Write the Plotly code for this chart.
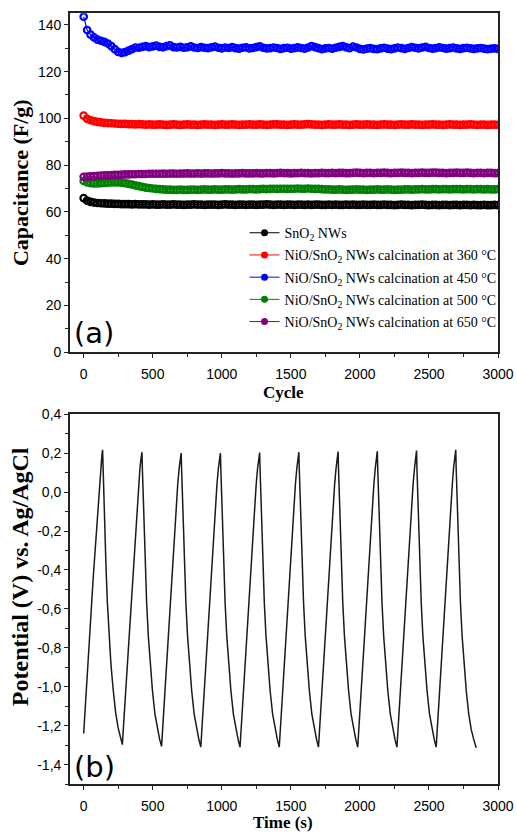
import plotly.graph_objects as go

W, H = 517, 836  # reference size, used only to turn pixel positions into paper fractions
FIG_W, FIG_H = 532, 844  # page size that the capture maps onto the 517x836 picture

# ---------------- Panel (a): capacitance retention ----------------
cycles = list(range(0, 3001, 25))

cap_sno2 = [
    65.9, 64.8, 64.3, 64.0, 63.8, 63.7, 63.6, 63.5, 63.5, 63.4, 63.4, 63.3, 63.3,
    63.3, 63.2, 63.3, 63.2, 63.2, 63.2, 63.1, 63.2, 63.1, 63.1, 63.2, 63.1,
    63.1, 63.2, 63.1, 63.1, 63.0, 63.1, 63.1, 63.2, 63.1, 63.1, 63.0, 63.1,
    63.1, 63.1, 63.0, 63.1, 63.2, 63.1, 63.1, 63.0, 63.1, 63.1, 63.0, 63.1,
    63.1, 63.0, 63.1, 63.1, 63.2, 63.1, 63.0, 63.1, 63.1, 63.0, 63.1, 63.1,
    63.0, 63.1, 63.1, 63.0, 63.1, 63.0, 63.1, 63.1, 63.0, 63.0, 63.1, 63.0,
    63.1, 63.0, 63.0, 63.1, 63.0, 63.1, 63.0, 63.0, 63.1, 63.0, 63.0, 63.1,
    63.0, 63.0, 63.1, 63.0, 63.0, 62.9, 63.0, 63.1, 63.0, 63.0, 62.9, 63.0,
    63.0, 63.1, 63.0, 62.9, 63.0, 63.0, 62.9, 63.0, 63.0, 62.9, 63.0, 63.0,
    62.9, 63.0, 63.0, 62.9, 63.0, 62.9, 62.9, 63.0, 62.9, 62.9, 63.0, 62.9,
]
cap_360 = [
    101.2, 99.8, 99.2, 98.8, 98.5, 98.3, 98.1, 98.0, 97.9, 97.8, 97.7, 97.6, 97.6,
    97.5, 97.5, 97.4, 97.5, 97.4, 97.3, 97.4, 97.3, 97.3, 97.4, 97.3, 97.2,
    97.3, 97.4, 97.3, 97.2, 97.3, 97.4, 97.3, 97.3, 97.2, 97.3, 97.4, 97.3,
    97.3, 97.2, 97.3, 97.4, 97.3, 97.3, 97.4, 97.3, 97.2, 97.3, 97.3, 97.4,
    97.3, 97.3, 97.4, 97.3, 97.2, 97.3, 97.4, 97.4, 97.3, 97.3, 97.2, 97.3,
    97.4, 97.3, 97.3, 97.4, 97.5, 97.4, 97.3, 97.3, 97.2, 97.3, 97.4, 97.3,
    97.3, 97.4, 97.3, 97.3, 97.2, 97.3, 97.4, 97.3, 97.3, 97.4, 97.3, 97.3,
    97.2, 97.3, 97.4, 97.3, 97.3, 97.2, 97.3, 97.4, 97.3, 97.3, 97.4, 97.3,
    97.3, 97.2, 97.3, 97.3, 97.4, 97.3, 97.3, 97.2, 97.3, 97.4, 97.3, 97.3,
    97.2, 97.3, 97.3, 97.4, 97.3, 97.2, 97.3, 97.3, 97.2, 97.3, 97.3, 97.2,
]
cap_450 = [
    143.5, 137.8, 135.8, 134.6, 133.7, 133.2, 132.7, 132.0, 130.9, 129.6, 128.4, 128.0, 128.3,
    129.0, 129.6, 130.3, 130.2, 130.6, 130.9, 130.5, 130.8, 131.1, 130.6, 130.4, 130.9,
    131.2, 130.5, 130.3, 130.6, 130.2, 130.4, 130.8, 130.3, 130.1, 130.5, 130.2, 130.0,
    130.4, 130.7, 130.2, 129.9, 130.3, 130.1, 130.5, 130.0, 129.8, 130.2, 130.4, 129.9,
    130.1, 130.5, 130.8, 130.2, 129.9, 130.0, 130.3, 130.1, 129.7, 130.0, 130.2, 129.8,
    130.0, 130.4, 130.1, 129.8, 130.3, 130.9, 130.5, 130.0, 129.6, 129.9, 130.1, 129.8,
    130.2, 130.6, 130.9, 130.4, 130.0, 130.7, 130.3, 129.7, 129.5, 129.8, 130.0, 129.7,
    129.6, 129.9, 130.2, 129.8, 129.6, 129.9, 130.3, 130.0, 129.7, 130.1, 130.5, 130.2,
    129.9, 130.3, 130.6, 130.1, 129.8, 130.0, 130.4, 130.1, 129.8, 130.0, 130.3, 129.9,
    129.7, 130.0, 130.2, 129.9, 129.7, 129.9, 130.1, 129.8, 129.6, 129.8, 129.9, 129.7,
]
cap_500 = [
    73.2, 72.6, 72.3, 72.2, 72.2, 72.3, 72.4, 72.5, 72.6, 72.6, 72.6, 72.5, 72.3,
    72.0, 71.7, 71.3, 71.0, 70.7, 70.4, 70.2, 70.0, 69.8, 69.7, 69.6, 69.5,
    69.5, 69.4, 69.4, 69.5, 69.4, 69.4, 69.5, 69.5, 69.4, 69.5, 69.6, 69.5,
    69.5, 69.6, 69.5, 69.5, 69.6, 69.6, 69.5, 69.6, 69.7, 69.6, 69.6, 69.7,
    69.7, 69.6, 69.7, 69.8, 69.7, 69.8, 69.9, 69.8, 69.9, 69.9, 69.8, 69.9,
    69.9, 70.0, 69.9, 69.9, 70.0, 69.9, 69.8, 69.8, 69.7, 69.6, 69.6, 69.5,
    69.5, 69.6, 69.5, 69.4, 69.5, 69.5, 69.6, 69.5, 69.5, 69.4, 69.5, 69.5,
    69.6, 69.5, 69.5, 69.6, 69.5, 69.4, 69.5, 69.5, 69.6, 69.6, 69.5, 69.6,
    69.6, 69.7, 69.6, 69.6, 69.7, 69.7, 69.6, 69.7, 69.7, 69.6, 69.7, 69.7,
    69.7, 69.6, 69.7, 69.7, 69.6, 69.7, 69.7, 69.6, 69.7, 69.6, 69.6, 69.7,
]
cap_650 = [
    75.0, 75.1, 75.2, 75.3, 75.4, 75.5, 75.6, 75.6, 75.7, 75.8, 75.8, 75.9, 76.0,
    76.0, 76.1, 76.1, 76.2, 76.2, 76.2, 76.3, 76.3, 76.3, 76.3, 76.4, 76.3,
    76.4, 76.4, 76.3, 76.4, 76.4, 76.5, 76.4, 76.4, 76.5, 76.4, 76.5, 76.5,
    76.4, 76.5, 76.5, 76.6, 76.5, 76.5, 76.4, 76.5, 76.5, 76.6, 76.5, 76.5,
    76.5, 76.6, 76.5, 76.5, 76.6, 76.6, 76.5, 76.6, 76.7, 76.6, 76.6, 76.5,
    76.6, 76.6, 76.7, 76.6, 76.6, 76.5, 76.6, 76.6, 76.7, 76.6, 76.6, 76.7,
    76.6, 76.7, 76.7, 76.6, 76.6, 76.7, 76.8, 76.7, 76.6, 76.7, 76.7, 76.6,
    76.7, 76.7, 76.8, 76.7, 76.6, 76.7, 76.7, 76.8, 76.7, 76.7, 76.6, 76.7,
    76.7, 76.8, 76.7, 76.7, 76.8, 76.8, 76.7, 76.7, 76.6, 76.7, 76.7, 76.8,
    76.7, 76.7, 76.8, 76.7, 76.6, 76.7, 76.7, 76.6, 76.7, 76.7, 76.6, 76.6,
]

series_names = [
    "SnO<sub>2</sub> NWs",
    "NiO/SnO<sub>2</sub> NWs calcination at 360 °C",
    "NiO/SnO<sub>2</sub> NWs calcination at 450 °C",
    "NiO/SnO<sub>2</sub> NWs calcination at 500 °C",
    "NiO/SnO<sub>2</sub> NWs calcination at 650 °C",
]
series_values = [cap_sno2, cap_360, cap_450, cap_500, cap_650]
series_colors = ["#000000", "#ff0000", "#0000ff", "#008000", "#800080"]

yticks_a = [0, 20, 40, 60, 80, 100, 120, 140]
xticks = [0, 500, 1000, 1500, 2000, 2500, 3000]

# ---------------- Panel (b): galvanostatic charge/discharge ----------------
time_s = [
    0, 20, 40, 53, 70, 94, 106, 116, 126, 132, 137,
    140, 145, 152, 161, 171, 183, 197, 213, 231, 249, 265, 280,
    300, 320, 340, 360, 375, 387, 397, 407, 415, 422,
    425, 430, 437, 446, 456, 468, 482, 498, 516, 534, 550, 564,
    584, 604, 624, 644, 659, 671, 681, 691, 699, 706,
    709, 714, 721, 730, 740, 752, 766, 782, 800, 818, 834, 848,
    868, 888, 908, 928, 943, 955, 965, 975, 983, 990,
    993, 998, 1005, 1014, 1024, 1036, 1050, 1066, 1084, 1102, 1118, 1132,
    1152, 1172, 1192, 1212, 1227, 1239, 1249, 1259, 1267, 1274,
    1277, 1282, 1289, 1298, 1308, 1320, 1334, 1350, 1368, 1386, 1402, 1416,
    1436, 1456, 1476, 1496, 1511, 1523, 1533, 1543, 1551, 1558,
    1561, 1566, 1573, 1582, 1592, 1604, 1618, 1634, 1652, 1670, 1686, 1700,
    1720, 1740, 1760, 1780, 1795, 1807, 1817, 1827, 1835, 1842,
    1845, 1850, 1857, 1866, 1876, 1888, 1902, 1918, 1936, 1954, 1970, 1984,
    2004, 2024, 2044, 2064, 2079, 2091, 2101, 2111, 2119, 2126,
    2129, 2134, 2141, 2150, 2160, 2172, 2186, 2202, 2220, 2238, 2254, 2268,
    2288, 2308, 2328, 2348, 2363, 2375, 2385, 2395, 2403, 2410,
    2413, 2418, 2425, 2434, 2444, 2456, 2470, 2486, 2504, 2522, 2538, 2552,
    2572, 2592, 2612, 2632, 2647, 2659, 2669, 2679, 2687, 2694,
    2697, 2702, 2709, 2718, 2728, 2740, 2754, 2770, 2788, 2806, 2824, 2842,
]
potential_v = [
    -1.24, -1.00, -0.78, -0.62, -0.43, -0.19, -0.06, 0.05, 0.14, 0.19, 0.217,
    0.13, 0.01, -0.15, -0.37, -0.56, -0.73, -0.88, -1.01, -1.13, -1.21, -1.26, -1.297,
    -1.07, -0.84, -0.61, -0.38, -0.21, -0.07, 0.04, 0.12, 0.17, 0.205,
    0.12, 0.00, -0.16, -0.38, -0.57, -0.74, -0.89, -1.02, -1.14, -1.22, -1.27, -1.306,
    -1.07, -0.84, -0.61, -0.38, -0.21, -0.07, 0.04, 0.12, 0.165, 0.200,
    0.12, 0.00, -0.16, -0.38, -0.57, -0.74, -0.89, -1.02, -1.14, -1.22, -1.27, -1.309,
    -1.07, -0.84, -0.61, -0.38, -0.21, -0.07, 0.04, 0.12, 0.165, 0.200,
    0.12, 0.00, -0.16, -0.38, -0.57, -0.74, -0.89, -1.02, -1.14, -1.22, -1.27, -1.310,
    -1.07, -0.84, -0.61, -0.38, -0.21, -0.07, 0.04, 0.12, 0.168, 0.203,
    0.12, 0.00, -0.16, -0.38, -0.57, -0.74, -0.89, -1.02, -1.14, -1.22, -1.27, -1.310,
    -1.07, -0.84, -0.61, -0.38, -0.21, -0.07, 0.04, 0.12, 0.17, 0.205,
    0.12, 0.00, -0.16, -0.38, -0.57, -0.74, -0.89, -1.02, -1.14, -1.22, -1.27, -1.310,
    -1.07, -0.84, -0.61, -0.38, -0.21, -0.07, 0.04, 0.12, 0.172, 0.208,
    0.12, 0.00, -0.16, -0.38, -0.57, -0.74, -0.89, -1.02, -1.14, -1.22, -1.27, -1.310,
    -1.07, -0.84, -0.61, -0.38, -0.21, -0.07, 0.04, 0.12, 0.174, 0.210,
    0.12, 0.00, -0.16, -0.38, -0.57, -0.74, -0.89, -1.02, -1.14, -1.22, -1.27, -1.310,
    -1.07, -0.84, -0.61, -0.38, -0.21, -0.07, 0.04, 0.12, 0.176, 0.213,
    0.12, 0.00, -0.16, -0.38, -0.57, -0.74, -0.89, -1.02, -1.14, -1.22, -1.27, -1.310,
    -1.07, -0.84, -0.61, -0.38, -0.21, -0.07, 0.04, 0.13, 0.18, 0.217,
    0.12, 0.00, -0.16, -0.38, -0.57, -0.74, -0.89, -1.02, -1.14, -1.22, -1.27, -1.313,
]
yticks_b = [-1.4, -1.2, -1.0, -0.8, -0.6, -0.4, -0.2, 0.0, 0.2, 0.4]
yticktext_b = ["-1,4", "-1,2", "-1,0", "-0,8", "-0,6", "-0,4", "-0,2", "0,0", "0,2", "0,4"]

# ---------------- Figure ----------------
def px_x(x):
    return x / W

def px_y(y):
    # the capture shows the page with a small top offset and slight vertical squeeze
    fig_y = (y - 7.85) / 0.981
    return min(1.0, max(0.0, 1 - fig_y / FIG_H))

fig = go.Figure()

for name, vals, col in zip(series_names, series_values, series_colors):
    fig.add_trace(go.Scatter(
        x=cycles, y=vals, mode="lines+markers", xaxis="x", yaxis="y",
        line=dict(color=col, width=1.2),
        marker=dict(symbol="circle-open", size=6.5, color=col, line=dict(width=2.2, color=col)),
        showlegend=False, hoverinfo="skip",
    ))
    # legend entry (filled dot on a thin line, like the original)
    fig.add_trace(go.Scatter(
        x=[None], y=[None], mode="lines+markers", name=name, xaxis="x", yaxis="y",
        legendgroup=name,
        line=dict(color=col, width=1),
        marker=dict(symbol="circle", size=7, color=col),
        showlegend=True,
    ))

fig.add_trace(go.Scatter(
    x=time_s, y=potential_v, mode="lines", xaxis="x2", yaxis="y2",
    line=dict(color="#1a1a1a", width=1.5), showlegend=False,
))

tickfont = dict(family="Liberation Sans, Arial", size=14, color="#000")
axis_common = dict(
    showline=True, linecolor="#222", linewidth=1.5, mirror=True,
    ticks="outside", ticklen=4, tickwidth=1.2, tickcolor="#222",
    showgrid=False, zeroline=False, tickfont=tickfont,
)

xdom = [px_x(70), px_x(499)]
fig.update_layout(
    width=FIG_W, height=FIG_H,
    margin=dict(l=0, r=0, t=0, b=0),
    paper_bgcolor="white", plot_bgcolor="white",
    xaxis=dict(domain=xdom, anchor="y", range=[-100, 3000], tickvals=xticks,
               minor=dict(ticks="outside", ticklen=3, dtick=250, tick0=0, tickcolor="#222"),
               ticklabelstandoff=4, **axis_common),
    yaxis=dict(domain=[px_y(352), px_y(13)], anchor="x", range=[0, 145], tickvals=yticks_a,
               minor=dict(ticks="outside", ticklen=3, dtick=10, tick0=0, tickcolor="#222"),
               **axis_common),
    xaxis2=dict(domain=xdom, anchor="y2", range=[-100, 3000], tickvals=xticks,
                minor=dict(ticks="outside", ticklen=3, dtick=250, tick0=0, tickcolor="#222"),
                ticklabelstandoff=4, **axis_common),
    yaxis2=dict(domain=[px_y(784), px_y(414)], anchor="x2", range=[-1.5, 0.4],
                tickvals=yticks_b, ticktext=yticktext_b,
                minor=dict(ticks="outside", ticklen=3, dtick=0.1, tick0=0, tickcolor="#222"),
                **axis_common),
    legend=dict(
        x=px_x(245), y=px_y(217), xanchor="left", yanchor="top",
        font=dict(family="Liberation Serif, Times New Roman", size=14, color="#000"),
        bgcolor="rgba(0,0,0,0)", itemwidth=30, tracegroupgap=1,
    ),
)

title_font = dict(family="Liberation Serif, Times New Roman", size=17, color="#000")
fig.add_annotation(text="<b>Cycle</b>", x=px_x(284), y=px_y(392), xref="paper", yref="paper",
                   showarrow=False, font=title_font, xanchor="center", yanchor="middle")
fig.add_annotation(text="<b>Time (s)</b>", x=px_x(284), y=px_y(822), xref="paper", yref="paper",
                   showarrow=False, font=title_font, xanchor="center", yanchor="middle")
fig.add_annotation(text="<b>Capacitance (F/g)</b>", x=px_x(20), y=px_y(182), xref="paper", yref="paper",
                   showarrow=False, font=dict(family="Liberation Serif, Times New Roman", size=22, color="#000"),
                   textangle=-90, xanchor="center", yanchor="middle")
fig.add_annotation(text="<b>Potential (V) vs. Ag/AgCl</b>", x=px_x(20), y=px_y(576), xref="paper", yref="paper",
                   showarrow=False, font=dict(family="Liberation Serif, Times New Roman", size=24, color="#000"),
                   textangle=-90, xanchor="center", yanchor="middle")

panel_font = dict(family="DejaVu Sans", size=29, color="#000")
fig.add_annotation(text="(a)", x=px_x(72), y=px_y(333), xref="paper", yref="paper",
                   showarrow=False, font=panel_font, xanchor="left", yanchor="middle")
fig.add_annotation(text="(b)", x=px_x(72), y=px_y(767), xref="paper", yref="paper",
                   showarrow=False, font=panel_font, xanchor="left", yanchor="middle")

fig.write_html(
    "out.html",
    config=dict(displayModeBar=False),
    post_script="document.body.style.margin='0';",
)
